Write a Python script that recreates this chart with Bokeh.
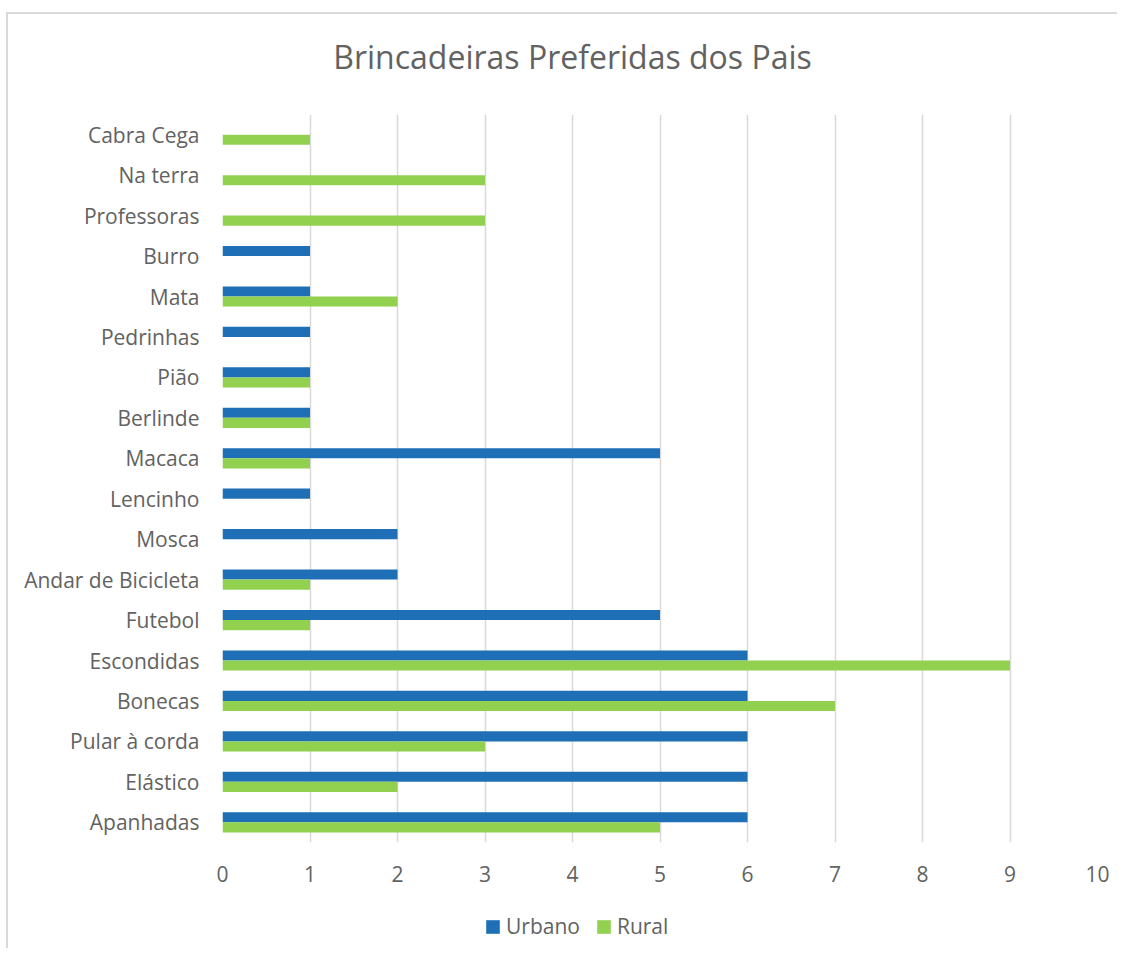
from bokeh.plotting import figure
from bokeh.layouts import column
from bokeh.models import FactorRange, Range1d, Legend, LegendItem, ColumnDataSource, FixedTicker, Label
from bokeh.transform import dodge
from bokeh.embed import file_html
from bokeh.resources import INLINE

categories = ["Apanhadas", "Elástico", "Pular à corda", "Bonecas", "Escondidas", "Futebol",
              "Andar de Bicicleta", "Mosca", "Lencinho", "Macaca", "Berlinde", "Pião",
              "Pedrinhas", "Mata", "Burro", "Professoras", "Na terra", "Cabra Cega"]
urbano = [6, 6, 6, 6, 6, 5, 2, 2, 1, 5, 1, 1, 1, 1, 1, 0, 0, 0]
rural = [5, 2, 3, 7, 9, 1, 1, 0, 0, 1, 1, 1, 0, 2, 0, 3, 3, 1]
x_ticks = list(range(0, 11))
series_names = ["Urbano", "Rural"]
title_text = "Brincadeiras Preferidas dos Pais"

BLUE = "#1F6FB6"
GREEN = "#92D050"
TEXT = "#626262"
GRID = "#D9D9D9"
FONT = "Open Sans"
BORDER = "2px solid #D9D9D9"

# ---- title strip (frame aligned with the chart frame) ----
t = figure(width=1111, height=80, output_backend="svg", toolbar_location=None,
           x_range=Range1d(0, 10), y_range=Range1d(0, 80),
           min_border_left=214, min_border_right=22, min_border_top=0, min_border_bottom=0)
t.axis.visible = False
t.grid.visible = False
t.outline_line_color = None
t.border_fill_color = "white"
t.styles = {"margin-top": "12px", "margin-left": "6px",
            "border-top": BORDER, "border-left": BORDER}
t.add_layout(Label(x=4, y=38, text=title_text, text_align="center",
                   text_baseline="alphabetic", text_font=FONT, text_font_size="32px",
                   text_color=TEXT))

# ---- main chart ----
src = ColumnDataSource(dict(cat=categories, urbano=urbano, rural=rural))

p = figure(width=1111, height=808, output_backend="svg", toolbar_location=None,
           y_range=FactorRange(factors=categories, range_padding=0),
           x_range=Range1d(0, 10),
           min_border_left=214, min_border_right=22, min_border_top=22, min_border_bottom=58)
p.outline_line_color = None
p.background_fill_color = "white"
p.border_fill_color = "white"
p.styles = {"margin-left": "6px", "border-left": BORDER}

r_u = p.hbar(y=dodge("cat", 0.125, range=p.y_range), left=0, right="urbano", height=0.25,
             source=src, fill_color=BLUE, line_color=None)
r_r = p.hbar(y=dodge("cat", -0.125, range=p.y_range), left=0, right="rural", height=0.25,
             source=src, fill_color=GREEN, line_color=None)

p.xaxis.ticker = FixedTicker(ticks=x_ticks)
p.xgrid.ticker = FixedTicker(ticks=x_ticks)
p.xgrid.grid_line_color = GRID
p.xgrid.grid_line_width = 1.5
p.ygrid.grid_line_color = None

for ax in (p.xaxis[0], p.yaxis[0]):
    ax.axis_line_color = None
    ax.major_tick_line_color = None
    ax.minor_tick_line_color = None
    ax.major_tick_out = 0
    ax.major_tick_in = 0
    ax.major_label_text_font = FONT
    ax.major_label_text_font_size = "21px"
    ax.major_label_text_color = TEXT
p.yaxis.major_label_standoff = 23
p.xaxis.major_label_standoff = 23

# ---- legend strip below the chart ----
q = figure(width=1111, height=48, output_backend="svg", toolbar_location=None,
           x_range=Range1d(0, 1), y_range=Range1d(0, 1),
           min_border_left=214, min_border_right=22, min_border_top=0, min_border_bottom=0)
q.axis.visible = False
q.grid.visible = False
q.outline_line_color = None
q.border_fill_color = "white"
q.styles = {"margin-left": "6px", "border-left": BORDER}
# zero-size swatch renderers that only carry the legend colours
l_u = q.hbar(y=[0], left=[0], right=[0], height=0, fill_color=BLUE, line_color=None)
l_r = q.hbar(y=[0], left=[0], right=[0], height=0, fill_color=GREEN, line_color=None)

legend = Legend(items=[LegendItem(label=series_names[0], renderers=[l_u]),
                       LegendItem(label=series_names[1], renderers=[l_r])],
                location=(262, 8), orientation="horizontal",
                glyph_width=17, glyph_height=17, label_standoff=5, spacing=15,
                padding=0, margin=0, border_line_color=None, background_fill_alpha=0,
                label_text_font=FONT, label_text_font_size="21px", label_text_color=TEXT)
q.add_layout(legend)

layout = column(t, p, q, spacing=0)
open("out.html", "w").write(file_html(layout, INLINE))
